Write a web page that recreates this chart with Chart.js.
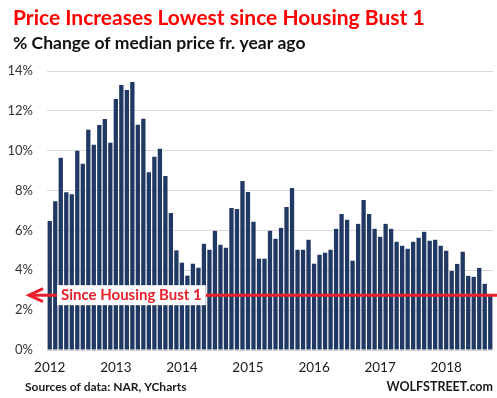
<!DOCTYPE html>
<html>
<head>
<meta charset="utf-8">
<title>Price Increases Lowest since Housing Bust 1</title>
<script src="https://cdn.jsdelivr.net/npm/chart.js@4.4.1/dist/chart.umd.min.js"></script>
<style>
    body { margin: 0; background: #ffffff; }
    #chart { display: block; }
</style>
</head>
<body>
<canvas id="chart" width="497" height="398"></canvas>
<script>
// Years shown on the axis (label at the January bar)
const years = ['2012', '2013', '2014', '2015', '2016', '2017', '2018'];

// % change of median price from a year ago, one value per month
const values2012 = [6.47, 7.47, 9.65, 7.92, 7.82, 10.0, 9.35, 11.05, 10.3, 11.29, 11.59, 10.4];
const values2013 = [12.6, 13.3, 13.05, 13.45, 11.3, 11.6, 8.92, 9.7, 10.1, 8.73, 6.87, 5.0];
const values2014 = [4.38, 3.73, 4.33, 4.13, 5.33, 5.03, 5.98, 5.28, 5.13, 7.13, 7.08, 8.48];
const values2015 = [7.93, 6.43, 4.58, 4.58, 5.98, 5.58, 6.13, 7.18, 8.13, 5.03, 5.03, 5.53];
const values2016 = [4.33, 4.78, 4.88, 5.03, 6.08, 6.83, 6.53, 4.48, 6.33, 7.53, 6.83, 6.08];
const values2017 = [5.68, 6.33, 6.08, 5.43, 5.23, 5.08, 5.43, 5.63, 5.93, 5.48, 5.53, 5.23];
const values2018 = [4.98, 3.97, 4.32, 4.93, 3.72, 3.67, 4.12, 3.32, 2.7];

// y ticks and the "since housing bust" reference level
const yTicks = [0, 2, 4, 6, 8, 10, 12, 14];
const bustLevel = 2.75;
const bustLabel = 'Since Housing Bust 1';

document.addEventListener('DOMContentLoaded', function() {
    const perYear = [values2012, values2013, values2014, values2015, values2016, values2017, values2018];

    // build month labels like "2012-1" from the arrays above
    const labels = [];
    const values = [];
    perYear.forEach((arr, i) => {
        arr.forEach((v, m) => {
            labels.push(years[i] + '-' + (m + 1));
            values.push(v);
        });
    });

    // titles, red arrow + label, texts at the bottom
    const notes = {
        id: 'notes',
        afterDatasetsDraw(chart) {
            const ctx = chart.ctx;
            const area = chart.chartArea;
            const y = chart.scales.y.getPixelForValue(bustLevel);
            ctx.save();

            // headline + subtitle
            ctx.textAlign = 'left';
            ctx.textBaseline = 'middle';
            ctx.fillStyle = '#ff0000';
            ctx.font = 'bold 21px Lato';
            ctx.fillText('Price Increases Lowest since Housing Bust 1', 13, 18);
            ctx.fillStyle = '#111111';
            ctx.font = 'bold 17.5px Lato';
            ctx.fillText('% Change of median price fr. year ago', 13, 43);

            ctx.strokeStyle = '#e8202b';
            ctx.lineWidth = 3;
            ctx.beginPath();
            ctx.moveTo(29, y);
            ctx.lineTo(chart.width, y);
            ctx.stroke();
            // open arrow head
            ctx.beginPath();
            ctx.moveTo(43, y - 6.5);
            ctx.lineTo(29, y);
            ctx.lineTo(43, y + 6.5);
            ctx.stroke();

            // label box
            ctx.font = 'bold 15px Lato';
            const w = ctx.measureText(bustLabel).width;
            ctx.fillStyle = '#ffffff';
            ctx.fillRect(area.left + 10, y - 10, w + 8, 20);
            ctx.fillStyle = '#e8202b';
            ctx.fillText(bustLabel, area.left + 14, y);

            ctx.fillStyle = '#1a1a1a';
            ctx.font = 'bold 12px Lato';
            ctx.fillText('Sources of data: NAR, YCharts', 25, 387);
            ctx.textAlign = 'right';
            ctx.font = 'bold 12.5px Lato';
            ctx.fillText('WOLFSTREET.com', 493, 387);
            ctx.restore();
        }
    };

    new Chart(document.getElementById('chart'), {
        type: 'bar',
        data: {
            labels: labels,
            datasets: [{
                data: values,
                backgroundColor: '#203864',
                categoryPercentage: 1,
                barPercentage: 0.78
            }]
        },
        options: {
            responsive: false,
            devicePixelRatio: 1,
            animation: false,
            layout: { padding: { left: 0, right: 4, top: 71, bottom: 14 } },
            plugins: {
                legend: { display: false },
                tooltip: { enabled: false },
                title: { display: false }
            },
            scales: {
                x: {
                    grid: { display: false, drawTicks: false },
                    border: { display: false },
                    ticks: {
                        autoSkip: false,
                        maxRotation: 0,
                        padding: 10,
                        color: '#1a1a1a',
                        font: { family: 'Lato', size: 13.5 },
                        callback: function(value) {
                            const lab = this.getLabelForValue(value);
                            return lab.endsWith('-1') ? lab.split('-')[0] : null;
                        }
                    },
                    afterFit: s => { s.height = 34; }
                },
                y: {
                    min: 0,
                    max: 14,
                    grid: { color: '#d9d9d9', lineWidth: 1, drawTicks: false },
                    border: { display: false },
                    afterBuildTicks: s => { s.ticks = yTicks.map(v => ({ value: v })); },
                    ticks: {
                        padding: 14,
                        color: '#333333',
                        font: { family: 'Lato', size: 13 },
                        callback: v => v + '%'
                    },
                    afterFit: s => { s.width = 47; }
                }
            }
        },
        plugins: [notes]
    });
});
</script>
</body>
</html>
